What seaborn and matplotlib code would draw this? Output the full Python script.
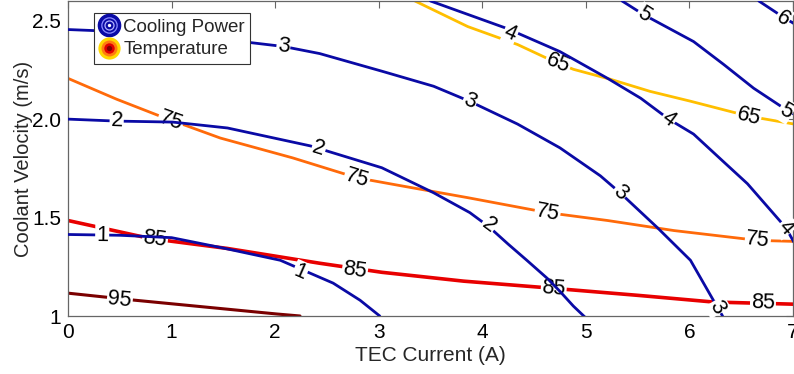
import matplotlib

matplotlib.use("Agg")
import matplotlib.pyplot as plt
import numpy as np
import seaborn as sns
from matplotlib.legend_handler import HandlerTuple
from matplotlib.lines import Line2D

# cooling power contours (TEC current A, coolant velocity m/s)
power_1_x = [0, 0.5, 1.0, 1.5, 2.05, 2.56, 2.82, 3.01]
power_1_y = [1.414, 1.41, 1.398, 1.345, 1.283, 1.167, 1.08, 1.0]
power_2_x = [0, 0.47, 1.01, 1.54, 2.34, 3.03, 3.53, 3.88, 4.06, 4.25, 4.43, 4.63, 4.75, 4.88, 5.0]
power_2_y = [2.0, 1.99, 1.985, 1.955, 1.864, 1.753, 1.626, 1.525, 1.455, 1.365, 1.283, 1.19, 1.125, 1.05, 0.99]
power_3_x = [0, 1.0, 1.5, 2.08, 2.43, 3.04, 3.53, 3.88, 4.34, 4.75, 5.14, 5.33, 5.69, 6.01, 6.23, 6.32]
power_3_y = [2.455, 2.434, 2.405, 2.369, 2.333, 2.242, 2.167, 2.09, 1.975, 1.854, 1.712, 1.626, 1.449, 1.283, 1.081, 1.0]
power_4_x = [3.5, 4.24, 4.75, 5.21, 5.53, 5.80, 6.04, 6.32, 6.56, 6.93, 7.01]
power_4_y = [2.6, 2.46, 2.343, 2.207, 2.106, 2.0, 1.924, 1.788, 1.672, 1.449, 1.374]
power_5_x = [5.35, 5.56, 6.04, 6.33, 6.62, 6.91, 7.01]
power_5_y = [2.6, 2.53, 2.394, 2.278, 2.157, 2.056, 2.025]
power_6_x = [6.67, 6.9, 7.01]
power_6_y = [2.6, 2.52, 2.485]

# temperature contours
temp_65_x = [3.35, 3.86, 4.34, 4.69, 4.88, 5.24, 5.62, 6.01, 6.57, 7.01]
temp_65_y = [2.6, 2.47, 2.379, 2.293, 2.253, 2.202, 2.141, 2.091, 2.015, 1.975]
temp_75_x = [0, 0.47, 0.89, 1.47, 2.17, 2.79, 3.21, 3.86, 4.63, 5.21, 5.85, 6.66, 7.01]
temp_75_y = [2.207, 2.101, 2.015, 1.904, 1.803, 1.702, 1.662, 1.601, 1.525, 1.485, 1.434, 1.384, 1.379]
temp_85_x = [0, 0.79, 1.54, 2.43, 3.03, 3.82, 4.56, 5.5, 6.23, 7.01]
temp_85_y = [1.485, 1.394, 1.343, 1.268, 1.222, 1.177, 1.146, 1.105, 1.071, 1.06]
temp_95_x = [0, 0.63, 2.02, 2.24]
temp_95_y = [1.116, 1.081, 1.01, 1.0]

# contour labels: text, line index, x, y
power_label_text = ["1", "1", "2", "2", "2", "3", "3", "3", "3", "4", "4", "4", "5", "5", "6"]
power_label_line = [1, 1, 2, 2, 2, 3, 3, 3, 3, 4, 4, 4, 5, 5, 6]
power_label_x = [0.33, 2.24, 0.47, 2.42, 4.06, 2.08, 3.88, 5.33, 6.27, 4.27, 5.80, 6.93, 5.56, 6.93, 6.9]
power_label_y = [1.409, 1.222, 1.99, 1.85, 1.46, 2.37, 2.09, 1.626, 1.045, 2.434, 2.0, 1.449, 2.53, 2.04, 2.51]

temp_label_text = ["65", "65", "75", "75", "75", "75", "85", "85", "85", "85", "95"]
temp_label_line = [65, 65, 75, 75, 75, 75, 85, 85, 85, 85, 95]
temp_label_x = [4.73, 6.57, 0.99, 2.79, 4.63, 6.66, 0.84, 2.77, 4.69, 6.71, 0.5]
temp_label_y = [2.283, 2.015, 1.99, 1.70, 1.525, 1.384, 1.389, 1.232, 1.141, 1.066, 1.081]

x_ticks = [0, 1, 2, 3, 4, 5, 6, 7]
y_ticks = [1, 1.5, 2.0, 2.5]
y_tick_labels = ["1", "1.5", "2.0", "2.5"]

BLUE = "#0a0aa5"
TEMP_COLORS = {65: "#ffbf00", 75: "#ff6a0a", 85: "#e80000", 95: "#7a0000"}
TEMP_WIDTHS = {65: 2.0, 75: 2.0, 85: 2.6, 95: 2.2}

power_lines = {
    1: (power_1_x, power_1_y),
    2: (power_2_x, power_2_y),
    3: (power_3_x, power_3_y),
    4: (power_4_x, power_4_y),
    5: (power_5_x, power_5_y),
    6: (power_6_x, power_6_y),
}
temp_lines = {
    65: (temp_65_x, temp_65_y),
    75: (temp_75_x, temp_75_y),
    85: (temp_85_x, temp_85_y),
    95: (temp_95_x, temp_95_y),
}


def label_angle(ax, xs, ys, x0):
    pts = ax.transData.transform(np.column_stack([xs, ys]))
    xd = ax.transData.transform([[x0, 1.5]])[0, 0]
    i = int(np.clip(np.searchsorted(pts[:, 0], xd), 1, len(pts) - 1))
    dx, dy = pts[i] - pts[i - 1]
    return np.degrees(np.arctan2(dy, dx))


def put_labels(ax, lines, texts, idx, xs, ys, z):
    for t, k, x, y in zip(texts, idx, xs, ys):
        lx, ly = lines[k]
        ang = label_angle(ax, lx, ly, x)
        ax.text(x, y, t, rotation=ang, rotation_mode="anchor", ha="center", va="center",
                fontsize=15.5, color="black", zorder=z,
                bbox=dict(boxstyle="square,pad=0.05", fc="white", ec="none"))


def main() -> None:
    sns.set_theme(style="white")
    plt.rcParams["font.family"] = ["Liberation Sans", "DejaVu Sans"]

    fig = plt.figure(figsize=(7.94, 3.74), dpi=100)
    ax = fig.add_axes([68 / 794, 58 / 374, 725 / 794, 315 / 374])
    ax.set_xlim(0, 7)
    ax.set_ylim(1, 2.6)

    for k, (lx, ly) in temp_lines.items():
        sns.lineplot(x=lx, y=ly, ax=ax, color=TEMP_COLORS[k], lw=TEMP_WIDTHS[k],
                     sort=False, estimator=None, zorder=2)
    put_labels(ax, temp_lines, temp_label_text, temp_label_line, temp_label_x, temp_label_y, 3)

    for k, (lx, ly) in power_lines.items():
        sns.lineplot(x=lx, y=ly, ax=ax, color=BLUE, lw=2.0, sort=False, estimator=None, zorder=4)
    put_labels(ax, power_lines, power_label_text, power_label_line, power_label_x, power_label_y, 5)

    for ln in ax.get_lines():
        ln.set_solid_joinstyle("round")

    ax.set_xticks(x_ticks)
    ax.set_xticklabels([str(v) for v in x_ticks])
    ax.set_yticks(y_ticks)
    ax.set_yticklabels(y_tick_labels)
    ax.tick_params(direction="in", length=5, width=0.8, color="#666666", labelsize=15,
                   top=True, right=True, pad=5, labelcolor="black")
    for s in ax.spines.values():
        s.set_color("#666666")
        s.set_linewidth(0.9)
    ax.set_xlabel("TEC Current (A)", fontsize=15, labelpad=3)
    ax.set_ylabel("Coolant Velocity (m/s)", fontsize=14.5, labelpad=-1)

    cool_icon = (
        Line2D([], [], ls="none", marker="o", ms=16, mfc=BLUE, mec=BLUE),
        Line2D([], [], ls="none", marker="o", ms=11, mfc="none", mec="#8c8cff", mew=0.9),
        Line2D([], [], ls="none", marker="o", ms=6.5, mfc="none", mec="#b0b0ff", mew=0.9),
        Line2D([], [], ls="none", marker="o", ms=2.4, mfc="white", mec="none"),
    )
    temp_icon = (
        Line2D([], [], ls="none", marker="o", ms=16, mfc="#ffd800", mec="none"),
        Line2D([], [], ls="none", marker="o", ms=11.5, mfc="#ff7a10", mec="none"),
        Line2D([], [], ls="none", marker="o", ms=7.5, mfc="#e00000", mec="none"),
        Line2D([], [], ls="none", marker="o", ms=3.8, mfc="#7a0000", mec="none"),
    )
    leg = ax.legend([cool_icon, temp_icon], ["Cooling Power", "Temperature"],
                    handler_map={tuple: HandlerTuple(ndivide=1)},
                    loc="upper left", bbox_to_anchor=(0.036, 0.962), borderaxespad=0,
                    fontsize=13.5, frameon=True, fancybox=False, framealpha=1,
                    edgecolor="#333333", handlelength=1.0, handletextpad=0.25,
                    borderpad=0.3, labelspacing=0.3, numpoints=1)
    leg.get_frame().set_linewidth(0.8)
    leg.set_zorder(10)

    fig.savefig("out.png", dpi=100)
    plt.close(fig)


if __name__ == "__main__":
    main()
